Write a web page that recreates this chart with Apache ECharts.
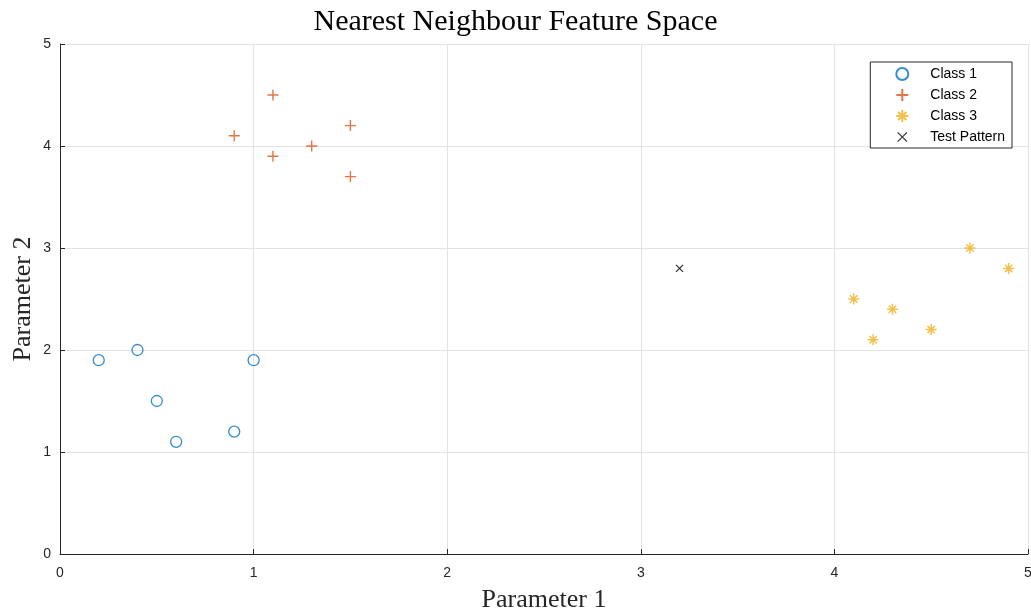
<!DOCTYPE html>
<html><head><meta charset="utf-8">
<script src="https://cdn.jsdelivr.net/npm/echarts@6/dist/echarts.min.js"></script>
<style>html,body{margin:0;padding:0;background:#fff}#c{width:1031px;height:609px}</style>
</head><body><div id="c"></div>
<script>
const class1 = [[0.2,1.9],[0.4,2.0],[0.5,1.5],[0.6,1.1],[0.9,1.2],[1.0,1.9]];
const class2 = [[0.9,4.1],[1.1,4.5],[1.1,3.9],[1.3,4.0],[1.5,4.2],[1.5,3.7]];
const class3 = [[4.1,2.5],[4.2,2.1],[4.3,2.4],[4.5,2.2],[4.7,3.0],[4.9,2.8]];
const testPattern = [[3.2,2.8]];
const seriesNames = ['Class 1','Class 2','Class 3','Test Pattern'];
const titleText = 'Nearest Neighbour Feature Space';
const xName = 'Parameter 1', yName = 'Parameter 2';

const plusPath = 'path://M0,5L10,5M5,0L5,10';
const starPath = 'path://M0,5L10,5M5,0L5,10M1.6,1.6L8.4,8.4M1.6,8.4L8.4,1.6';
const crossPath = 'path://M0,0L10,10M0,10L10,0';

const chart = echarts.init(document.getElementById('c'), null, {renderer:'canvas'});
const labelFont = {color:'#262626', fontFamily:'Liberation Sans, Arial, sans-serif', fontSize:14};
const axisCommon = {
  min:0, max:5, interval:1,
  axisLine:{show:true, lineStyle:{color:'#262626', width:1}},
  axisTick:{show:true, inside:true, length:5, lineStyle:{color:'#262626'}},
  splitLine:{show:true, lineStyle:{color:'#e3e3e3', width:1}},
  nameLocation:'middle',
  nameMoveOverlap:false,
  nameTextStyle:{fontFamily:'Liberation Serif, serif', fontSize:26, color:'#262626'}
};
chart.setOption({
  animation:false,
  title:{text:titleText, left:'center', top:2,
    textStyle:{fontFamily:'Liberation Serif, serif', fontSize:30, fontWeight:'normal', color:'#000'}},
  grid:{left:60, right:3, top:44, bottom:55, containLabel:false, outerBoundsMode:'none'},
  xAxis:Object.assign({}, axisCommon, {name:xName, nameGap:33, axisLabel:Object.assign({}, labelFont, {margin:12})}),
  yAxis:Object.assign({}, axisCommon, {name:yName, nameGap:24, axisLabel:Object.assign({}, labelFont, {margin:9})}),
  legend:{
    orient:'vertical', right:19, top:62,
    backgroundColor:'#fff', borderColor:'#262626', borderWidth:1, borderRadius:0,
    padding:[5,7,4,25], itemGap:7, itemWidth:12, itemHeight:12,
    textStyle:{fontFamily:'Liberation Sans, Arial, sans-serif', fontSize:14, color:'#000', padding:[0,0,0,17]},
    data:[
      {name:seriesNames[0]},
      {name:seriesNames[1]},
      {name:seriesNames[2]},
      {name:seriesNames[3], icon:'path://M-2,-2L12,12M-2,12L12,-2M-4,-4M14,14', itemStyle:{color:'rgba(0,0,0,0)', borderColor:'#000', borderWidth:1.2}}
    ]
  },
  series:[
    {name:seriesNames[0], type:'scatter', data:class1, symbol:'circle', symbolSize:11,
      itemStyle:{color:'rgba(0,0,0,0)', borderColor:'#0072BD', borderWidth:1.3}},
    {name:seriesNames[1], type:'scatter', data:class2, symbol:plusPath, symbolSize:11,
      itemStyle:{color:'rgba(0,0,0,0)', borderColor:'#D95319', borderWidth:1.4}},
    {name:seriesNames[2], type:'scatter', data:class3, symbol:starPath, symbolSize:11,
      itemStyle:{color:'rgba(0,0,0,0)', borderColor:'#EDB120', borderWidth:1.5}},
    {name:seriesNames[3], type:'scatter', data:testPattern, symbol:crossPath, symbolSize:7,
      itemStyle:{color:'rgba(0,0,0,0)', borderColor:'#000', borderWidth:1.3}}
  ]
});
</script></body></html>
